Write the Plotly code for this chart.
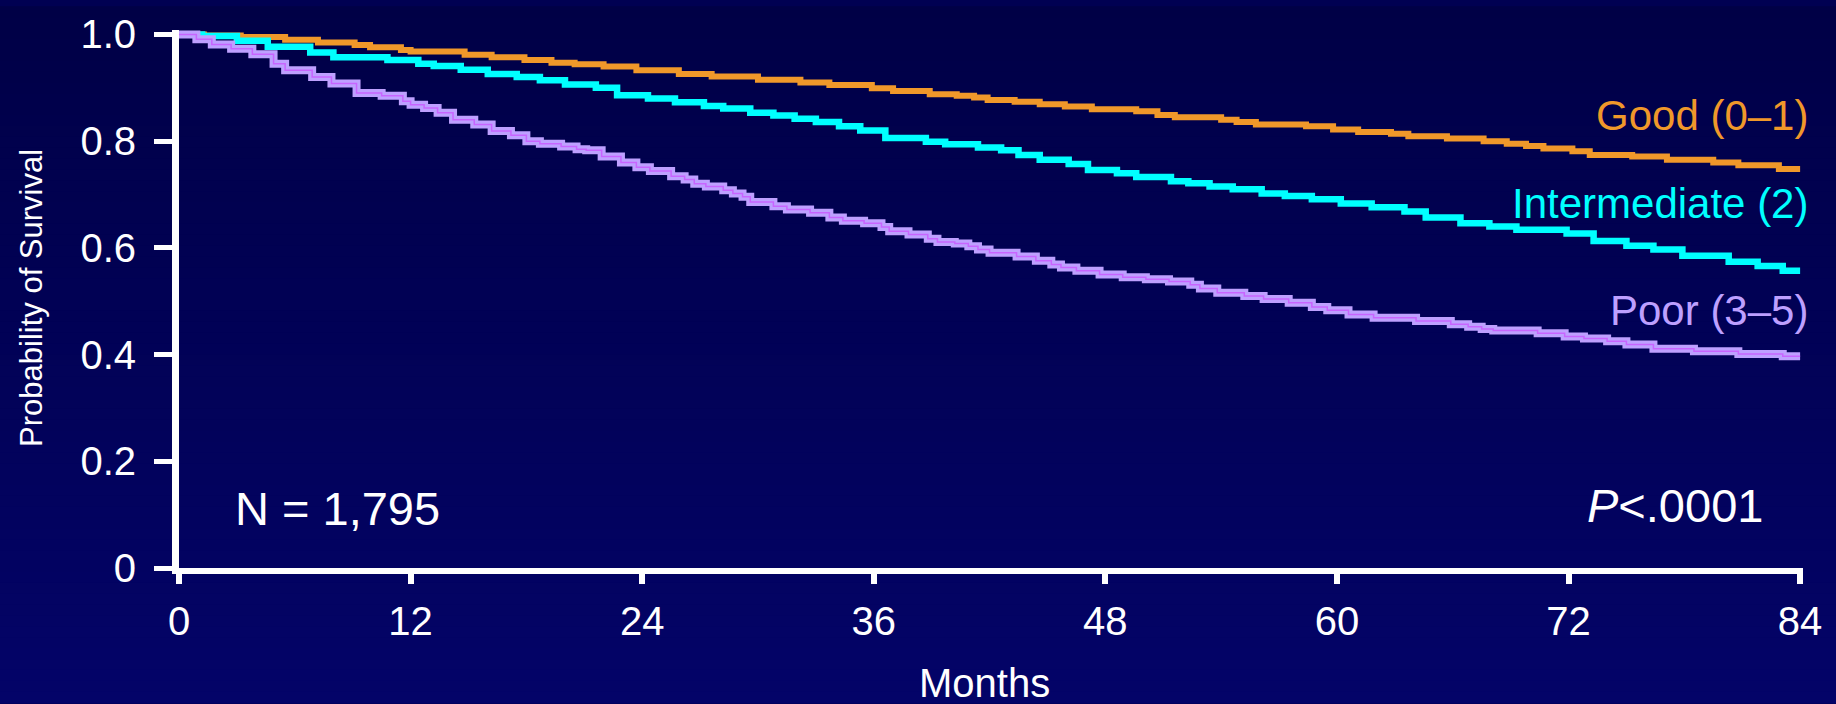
import plotly.graph_objects as go

# Kaplan-Meier step curves by risk group (months, survival probability)
good_months = [0, 1.3, 3.2, 5.5, 7.2, 9.1, 9.9, 11.5, 12.0, 14.8, 16.2, 17.9, 19.3, 20.5,
               22.0, 23.7, 25.9, 27.6, 30.0, 32.2, 33.7, 35.9, 37.0, 38.9, 40.3, 41.2,
               41.9, 43.3, 44.6, 45.9, 47.3, 49.6, 50.7, 51.6, 54.0, 54.8, 55.8, 58.4,
               59.8, 61.1, 62.8, 63.7, 65.7, 67.6, 68.8, 69.8, 70.7, 72.2, 73.1, 75.3,
               77.1, 79.5, 80.8, 82.9, 84]
good_surv = [1.0, 0.998, 0.995, 0.990, 0.985, 0.980, 0.976, 0.971, 0.968, 0.962, 0.957,
             0.952, 0.947, 0.944, 0.940, 0.933, 0.926, 0.921, 0.915, 0.910, 0.905, 0.899,
             0.894, 0.888, 0.885, 0.882, 0.877, 0.874, 0.869, 0.865, 0.860, 0.856, 0.849,
             0.845, 0.840, 0.836, 0.831, 0.828, 0.822, 0.817, 0.814, 0.809, 0.805, 0.800,
             0.795, 0.791, 0.786, 0.781, 0.774, 0.771, 0.765, 0.760, 0.755, 0.748, 0.748]

inter_months = [0, 1.2, 3.0, 4.6, 6.8, 8.0, 10.8, 12.4, 13.2, 14.6, 16.0, 17.5, 18.7, 20.0,
                21.6, 22.7, 24.3, 25.7, 27.2, 28.2, 29.6, 30.8, 31.9, 33.0, 34.2, 35.3,
                36.6, 38.7, 39.7, 41.4, 42.6, 43.5, 44.6, 46.1, 47.1, 48.6, 49.6, 51.4,
                52.3, 53.4, 54.6, 56.1, 57.3, 58.7, 60.2, 61.8, 63.5, 64.6, 66.4, 67.9,
                69.3, 71.9, 73.3, 75.0, 76.4, 77.9, 80.3, 81.8, 83.1, 84]
inter_surv = [1.0, 0.997, 0.988, 0.977, 0.966, 0.957, 0.952, 0.945, 0.941, 0.934, 0.926,
              0.920, 0.914, 0.906, 0.900, 0.886, 0.880, 0.873, 0.866, 0.861, 0.853, 0.848,
              0.842, 0.836, 0.828, 0.820, 0.806, 0.799, 0.794, 0.788, 0.783, 0.774, 0.765,
              0.757, 0.746, 0.740, 0.733, 0.725, 0.721, 0.715, 0.710, 0.702, 0.697, 0.691,
              0.683, 0.676, 0.668, 0.657, 0.646, 0.640, 0.634, 0.627, 0.613, 0.604, 0.597,
              0.585, 0.574, 0.566, 0.557, 0.557]

poor_months = [0, 0.9, 1.7, 2.7, 3.8, 4.9, 5.5, 6.9, 7.9, 9.2, 10.5, 11.6, 12.0, 12.7,
               13.4, 14.2, 15.3, 16.2, 17.2, 18.0, 18.7, 19.8, 20.6, 21.1, 21.9, 22.9,
               23.7, 24.4, 25.5, 26.2, 26.7, 27.3, 28.2, 28.7, 29.2, 29.6, 30.8, 31.5,
               32.7, 33.7, 34.4, 35.5, 36.4, 36.8, 37.8, 38.8, 39.3, 40.2, 40.9, 41.4,
               42.0, 43.4, 44.4, 45.2, 45.7, 46.5, 47.7, 48.9, 50.1, 51.3, 52.4, 52.9,
               53.8, 55.2, 56.2, 57.5, 58.7, 59.5, 60.6, 61.9, 64.1, 65.9, 66.8, 67.5,
               68.1, 70.4, 71.8, 72.8, 74.0, 75.0, 76.4, 78.5, 80.8, 83.1, 84]
poor_surv = [1.0, 0.991, 0.981, 0.973, 0.963, 0.945, 0.933, 0.920, 0.908, 0.890, 0.885,
             0.875, 0.868, 0.862, 0.853, 0.840, 0.831, 0.819, 0.811, 0.800, 0.795, 0.790,
             0.785, 0.783, 0.771, 0.760, 0.751, 0.744, 0.734, 0.728, 0.720, 0.715, 0.708,
             0.702, 0.696, 0.686, 0.678, 0.672, 0.666, 0.657, 0.651, 0.646, 0.639, 0.631,
             0.625, 0.617, 0.611, 0.608, 0.603, 0.597, 0.591, 0.584, 0.576, 0.569, 0.563,
             0.557, 0.550, 0.545, 0.541, 0.537, 0.531, 0.524, 0.516, 0.510, 0.504, 0.497,
             0.489, 0.483, 0.475, 0.469, 0.463, 0.457, 0.452, 0.448, 0.445, 0.440, 0.434,
             0.430, 0.425, 0.419, 0.411, 0.406, 0.401, 0.397, 0.397]

assert len(good_months) == len(good_surv)
assert len(inter_months) == len(inter_surv)
assert len(poor_months) == len(poor_surv)

x_ticks = [0, 12, 24, 36, 48, 60, 72, 84]
y_ticks = [0, 0.2, 0.4, 0.6, 0.8, 1.0]
y_tick_text = ["0", "0.2", "0.4", "0.6", "0.8", "1.0"]

FONT = "Liberation Sans, Arial, sans-serif"
BG_TOP = (0, 0, 70)
BG_BOTTOM = (3, 3, 104)
ORANGE = "#F0982A"
CYAN = "#00FFFF"
LAVENDER = "#BEA0FF"
VIOLET = "#C864FF"

W, H = 1836, 704
M_L, M_R, M_T, M_B = 179, 33, 24, 136
PLOT_W, PLOT_H = W - M_L - M_R, H - M_T - M_B

fig = go.Figure()

# vertical navy gradient behind the whole figure, built from thin paper-space bands
N_BANDS = 64
for i in range(N_BANDS):
    f = (i + 0.5) / N_BANDS
    r, g, b = (round(BG_TOP[k] + (BG_BOTTOM[k] - BG_TOP[k]) * f) for k in range(3))
    py0, py1 = i * H / N_BANDS, (i + 1) * H / N_BANDS + 1
    fig.add_shape(type="rect", xref="paper", yref="paper", layer="below",
                  x0=-0.2, x1=1.2,
                  y0=(H - M_B - py1) / PLOT_H, y1=(H - M_B - py0) / PLOT_H,
                  fillcolor=f"rgb({r},{g},{b})", line=dict(width=0))

fig.add_trace(go.Scatter(x=good_months, y=good_surv, mode="lines", line_shape="hv",
                         line=dict(color=ORANGE, width=6), cliponaxis=False))
fig.add_trace(go.Scatter(x=inter_months, y=inter_surv, mode="lines", line_shape="hv",
                         line=dict(color=CYAN, width=6.5), cliponaxis=False))
fig.add_trace(go.Scatter(x=poor_months, y=poor_surv, mode="lines", line_shape="hv",
                         line=dict(color=LAVENDER, width=8), cliponaxis=False))
fig.add_trace(go.Scatter(x=poor_months, y=poor_surv, mode="lines", line_shape="hv",
                         line=dict(color=VIOLET, width=1.5), cliponaxis=False))


def note(text, x, y, color, size, xanchor, xref="paper", yref="paper", **kw):
    fig.add_annotation(text=text, x=x, y=y, xref=xref, yref=yref, showarrow=False,
                       xanchor=xanchor, yanchor="middle",
                       font=dict(family=FONT, size=size, color=color), **kw)


# group labels at the right end of each curve
note("Good (0\u20131)", 1.0043, 0.842, ORANGE, 42, "right")
note("Intermediate (2)", 1.0043, 0.678, CYAN, 42, "right")
note("Poor (3\u20135)", 1.0043, 0.479, LAVENDER, 42, "right")
# in-plot notes
note("N = 1,795", 2.8, 0.111, "white", 47, "left", xref="x", yref="y")
note("<i>P</i><.0001", 82.2, 0.118, "white", 47, "right", xref="x", yref="y")
# axis titles
note("Months", 0.4963, -0.2142, "white", 40, "center")
note("Probability of Survival", -0.0905, 0.502, "white", 31, "center", textangle=-90)

fig.update_layout(
    width=W, height=H,
    margin=dict(l=M_L, r=M_R, t=M_T, b=M_B),
    paper_bgcolor="rgb(0,0,82)", plot_bgcolor="rgba(0,0,0,0)",
    showlegend=False,
    font=dict(family=FONT, color="white"),
    xaxis=dict(range=[0, 84.15], tickvals=x_ticks, ticktext=[str(v) for v in x_ticks],
               showline=True, linecolor="white", linewidth=6,
               ticks="outside", ticklen=10, tickwidth=6, tickcolor="white",
               showgrid=False, zeroline=False, ticklabelstandoff=3,
               tickfont=dict(family=FONT, size=40, color="white")),
    yaxis=dict(range=[0, 1.0083], tickvals=y_ticks, ticktext=y_tick_text,
               showline=True, linecolor="white", linewidth=7,
               ticks="outside", ticklen=18, tickwidth=5, tickcolor="white",
               showgrid=False, zeroline=False, ticklabelstandoff=10,
               tickfont=dict(family=FONT, size=40, color="white")),
)

fig.write_html("out.html")
